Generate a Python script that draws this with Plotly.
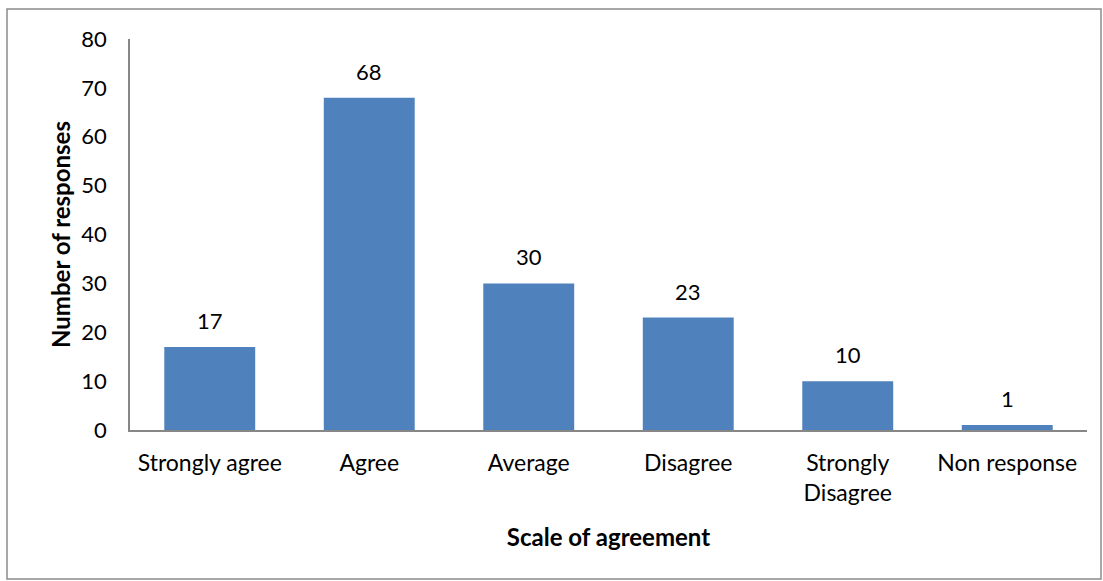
import plotly.graph_objects as go

categories = ["Strongly agree", "Agree", "Average", "Disagree", "Strongly<br>Disagree", "Non response"]
responses = [17, 68, 30, 23, 10, 1]
y_ticks = [0, 10, 20, 30, 40, 50, 60, 70, 80]

FONT = "Lato, Carlito, Calibri, sans-serif"

fig = go.Figure(go.Bar(
    x=categories, y=responses,
    marker=dict(color="#4F81BD", line=dict(width=0)),
))

for c, v in zip(categories, responses):
    fig.add_annotation(
        x=c, y=v, xref="x", yref="y", text=str(v), showarrow=False,
        yanchor="bottom", yshift=11,
        font=dict(size=22, color="black", family=FONT),
    )

L, R, T, B = 130, 16, 39, 151
W, H = 1103, 581
pw, ph = W - L - R, H - T - B
def px(x): return (x - L) / pw
def py(y): return (H - B - y) / ph

fig.update_layout(
    width=W, height=H,
    margin=dict(l=L, r=R, t=T, b=B, pad=0),
    paper_bgcolor="white", plot_bgcolor="white",
    bargap=0.43,
    font=dict(family=FONT, size=23, color="black"),
    showlegend=False,
    xaxis=dict(
        showline=True, linecolor="#878787", linewidth=1.5,
        ticks="", showgrid=False, ticklabelstandoff=12,
        tickfont=dict(size=23),
        title=dict(text="<b>Scale of agreement</b>", font=dict(size=24), standoff=24),
    ),
    yaxis=dict(
        range=[0, 80], tickvals=y_ticks,
        showline=True, linecolor="#878787", linewidth=1.5,
        ticks="", showgrid=False, zeroline=False, ticklabelstandoff=17,
        tickfont=dict(size=22),
        title=dict(text="<b>Number of responses</b>", font=dict(size=24), standoff=4),
    ),
    shapes=[dict(
        type="rect", xref="paper", yref="paper",
        x0=px(7), x1=px(1101), y0=py(9), y1=py(579),
        line=dict(color="#8c8c8c", width=1.5), fillcolor="rgba(0,0,0,0)", layer="below",
    )],
)

fig.write_html("out.html", post_script="document.body.style.margin='0';",
               config={"displayModeBar": False})
